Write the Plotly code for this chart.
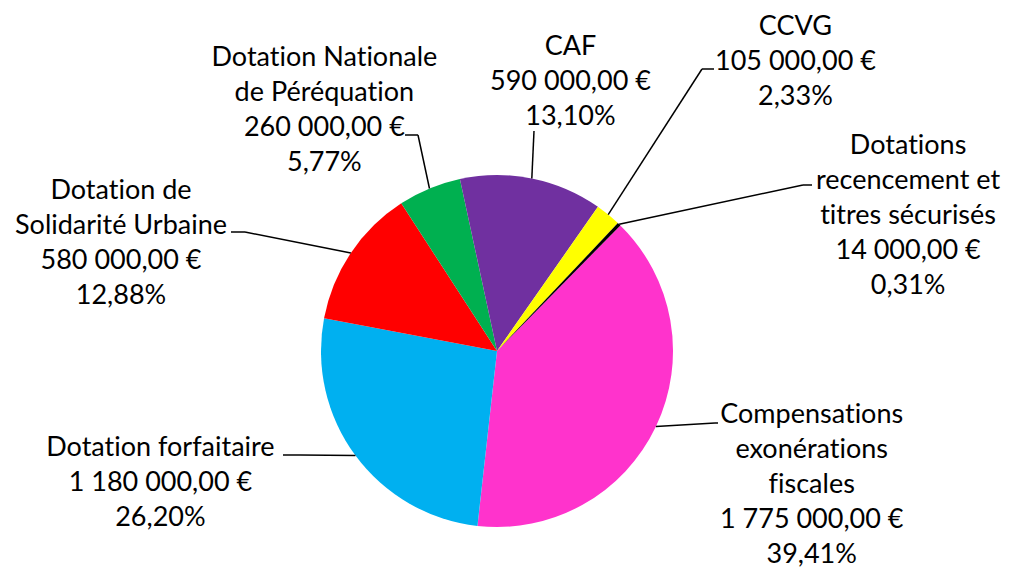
import math
import plotly.graph_objects as go

# ---- data ----
categories = [
    "Compensations exonérations fiscales",
    "Dotation forfaitaire",
    "Dotation de Solidarité Urbaine",
    "Dotation Nationale de Péréquation",
    "CAF",
    "CCVG",
    "Dotations recencement et titres sécurisés",
]
label_lines = [
    ["Compensations", "exonérations", "fiscales"],
    ["Dotation forfaitaire"],
    ["Dotation de", "Solidarité Urbaine"],
    ["Dotation Nationale", "de Péréquation"],
    ["CAF"],
    ["CCVG"],
    ["Dotations", "recencement et", "titres sécurisés"],
]
values = [1775000, 1180000, 580000, 260000, 590000, 105000, 14000]
colors = ["#FF33CC", "#00B0F0", "#FF0000", "#00B050", "#7030A0", "#FFFF00", "#000000"]

# ---- layout ----
W, H = 1009, 569
CX, CY, R = 497, 351, 176
ROTATION = 44.5
FONT = "Lato"
FS = 27

# label block centres (px) and leader-line knee / end points (px)
label_pos = [(812, 482), (160, 480), (121, 241), (324, 108), (570, 79), (795, 59), (908, 214)]
leader_pts = [
    [(715, 423), (718, 423)],
    [(300, 455), (283, 455)],
    [(245, 232), (231, 232)],
    [(418, 135), (405, 135)],
    [(534, 131), (534, 131)],
    [(702, 69), (714, 69)],
    [(803, 185), (812, 185)],
]


def fr_money(v):
    s = f"{v:,.2f}".replace(",", " ").replace(".", ",")
    return s + " €"


def px(x, y):
    return x / W, 1 - y / H


total = sum(values)

fig = go.Figure(
    go.Pie(
        labels=categories,
        values=values,
        marker=dict(colors=colors, line=dict(width=0)),
        sort=False,
        direction="clockwise",
        rotation=ROTATION,
        textinfo="none",
        hoverinfo="none",
        showlegend=False,
        domain=dict(x=[(CX - R) / W, (CX + R) / W], y=[1 - (CY + R) / H, 1 - (CY - R) / H]),
    )
)

shapes = []
annotations = []
cum = 0
for i, v in enumerate(values):
    mid = ROTATION + (cum + v / 2) / total * 360
    cum += v
    a = math.radians(mid)
    ex, ey = CX + R * math.sin(a), CY - R * math.cos(a)
    pts = [(ex, ey)] + leader_pts[i]
    for (x0, y0), (x1, y1) in zip(pts[:-1], pts[1:]):
        if (x0, y0) == (x1, y1):
            continue
        p0 = px(x0, y0)
        p1 = px(x1, y1)
        shapes.append(dict(type="line", xref="paper", yref="paper",
                           x0=p0[0], y0=p0[1], x1=p1[0], y1=p1[1],
                           line=dict(color="black", width=1.5)))
    pct = f"{v / total * 100:.2f}".replace(".", ",") + "%"
    text = "<br>".join(label_lines[i] + [fr_money(v), pct])
    lx, ly = px(*label_pos[i])
    annotations.append(dict(x=lx, y=ly, xref="paper", yref="paper", text=text,
                            showarrow=False, xanchor="center", yanchor="middle",
                            align="center", borderpad=0,
                            font=dict(family=FONT, size=FS, color="black")))

fig.update_layout(
    width=W, height=H,
    margin=dict(l=0, r=0, t=0, b=0),
    paper_bgcolor="white", plot_bgcolor="white",
    shapes=shapes, annotations=annotations,
)

fig.write_html(
    "out.html",
    config={"displayModeBar": False},
    post_script=(
        "document.body.style.margin='0';document.body.style.overflow='hidden';"
        "document.querySelectorAll('text').forEach(function(t){t.style.fontVariantLigatures='none';});"
    ),
)
